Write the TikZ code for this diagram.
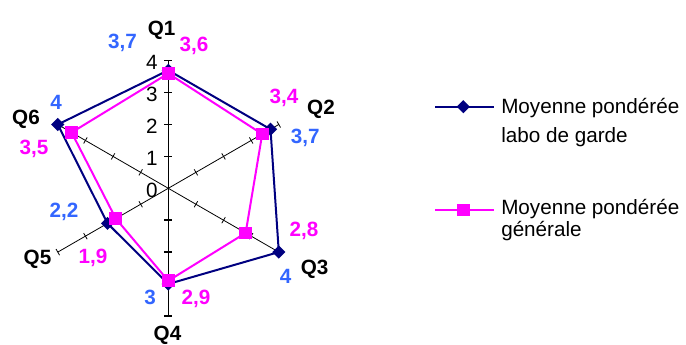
\documentclass[tikz,border=0pt]{standalone}
\usepackage{fontspec}
\setmainfont{Liberation Sans}
\usetikzlibrary{calc,shapes.geometric}
\definecolor{garde}{RGB}{0,0,128}
\definecolor{gen}{RGB}{255,0,255}
\definecolor{gardetxt}{RGB}{51,102,255}
\def\rad{31.9}
\tikzset{
	radar/.style={x=0.75pt,y=0.75pt,font=\fontsize{15.5}{19}\selectfont},
	spoke/.style={draw=black,line width=0.6pt},
	valaxis/.style={draw=black,line width=1.1pt},
	gardeline/.style={draw=garde,line width=1.5pt,line join=round},
	genline/.style={draw=gen,line width=1.5pt,line join=round},
	gardemark/.style={diamond,fill=garde,inner sep=0pt,minimum size=10pt},
	genmark/.style={rectangle,fill=gen,inner sep=0pt,minimum size=9.5pt},
	ticklbl/.style={anchor=east,inner sep=0pt},
	qlbl/.style={anchor=base,inner sep=0pt,font=\fontsize{15.5}{19}\selectfont\bfseries},
	gardeval/.style={qlbl,text=gardetxt},
	genval/.style={qlbl,text=gen},
	legtxt/.style={anchor=base west,inner sep=0pt,font=\fontsize{15.5}{19}\selectfont}
}
\begin{document}
\begin{tikzpicture}[radar]
	\useasboundingbox (-168.3,-156.7) rectangle (517.7,188.3);
	\coordinate (O) at (0,0);
	\foreach \q/\a in {1/90,2/30,3/-30,4/-90,5/210,6/150}
		\coordinate (ax\q) at (\a:4*\rad);
	% axes and ticks
	\foreach \q in {2,3,5,6}
		\draw[spoke] (O) -- (ax\q);
	\draw[valaxis] (ax4) -- (ax1);
	\foreach \a in {30,-30,210,150}
		\foreach \k in {1,...,4}
			\draw[spoke] (\a:\k*\rad) ++(\a+90:3.5) -- ++(\a-90:7);
	\foreach \a in {90,-90}
		\foreach \k in {1,...,4}
			\draw[valaxis] (\a:\k*\rad) ++(-4,0) -- ++(8,0);
	\foreach \k in {0,...,4}
		\node[ticklbl] (t\k) at (-10.5,\k*\rad-2) {\k};
	% data
	\foreach \q/\a/\v in {1/90/3.7,2/30/3.7,3/-30/4,4/-90/3,5/210/2.2,6/150/4}
		\coordinate (g\q) at (\a:\v*\rad);
	\foreach \q/\a/\v in {1/90/3.6,2/30/3.4,3/-30/2.8,4/-90/2.9,5/210/1.9,6/150/3.5}
		\coordinate (m\q) at (\a:\v*\rad);
	\draw[gardeline] (g1) -- (g2) -- (g3) -- (g4) -- (g5) -- (g6) -- cycle;
	\foreach \q in {1,...,6}
		\node[gardemark] (gm\q) at (g\q) {};
	\draw[genline] (m1) -- (m2) -- (m3) -- (m4) -- (m5) -- (m6) -- cycle;
	\foreach \q in {1,...,6}
		\node[genmark] (mm\q) at (m\q) {};
	% labels
	\foreach \q/\x/\y in {1/-6.6/153,2/152.7/73.3,3/146.4/-86.2,4/-0.8/-152,5/-130.8/-76.7,6/-142.3/63.8}
		\node[qlbl] (q\q) at (\x,\y) {Q\q};
	\foreach \q/\x/\y/\t in {1/-45.8/139.6/{3,7},2/137/44.6/{3,7},3/117.2/-95.7/4,4/-18.3/-116.7/3,5/-104.3/-29.7/{2,2},6/-112.3/78.3/4}
		\node[gardeval] (vg\q) at (\x,\y) {\t};
	\foreach \q/\x/\y/\t in {1/25.7/136.3/{3,6},2/115.7/84.6/{3,4},3/135.7/-48.2/{2,8},4/27.7/-116.7/{2,9},5/-75.3/-75.7/{1,9},6/-134.3/33.3/{3,5}}
		\node[genval] (vm\q) at (\x,\y) {\t};
	% legend
	\coordinate (lgA) at (266.7,81.6);
	\coordinate (lgB) at (325.7,81.6);
	\coordinate (lgC) at (266.7,-21.7);
	\coordinate (lgD) at (325.7,-21.7);
	\draw[gardeline] (lgA) -- (lgB);
	\node[gardemark] (lgG) at ($(lgA)!.48!(lgB)$) {};
	\draw[genline] (lgC) -- (lgD);
	\node[genmark] (lgM) at ($(lgC)!.48!(lgD)$) {};
	\node[legtxt] (lgt1) at (332.7,75) {Moyenne pondérée};
	\node[legtxt] (lgt2) at (332.7,45.3) {labo de garde};
	\node[legtxt] (lgt3) at (332.7,-26.7) {Moyenne pondérée};
	\node[legtxt] (lgt4) at (332.7,-48.4) {générale};
\end{tikzpicture}
\end{document}
